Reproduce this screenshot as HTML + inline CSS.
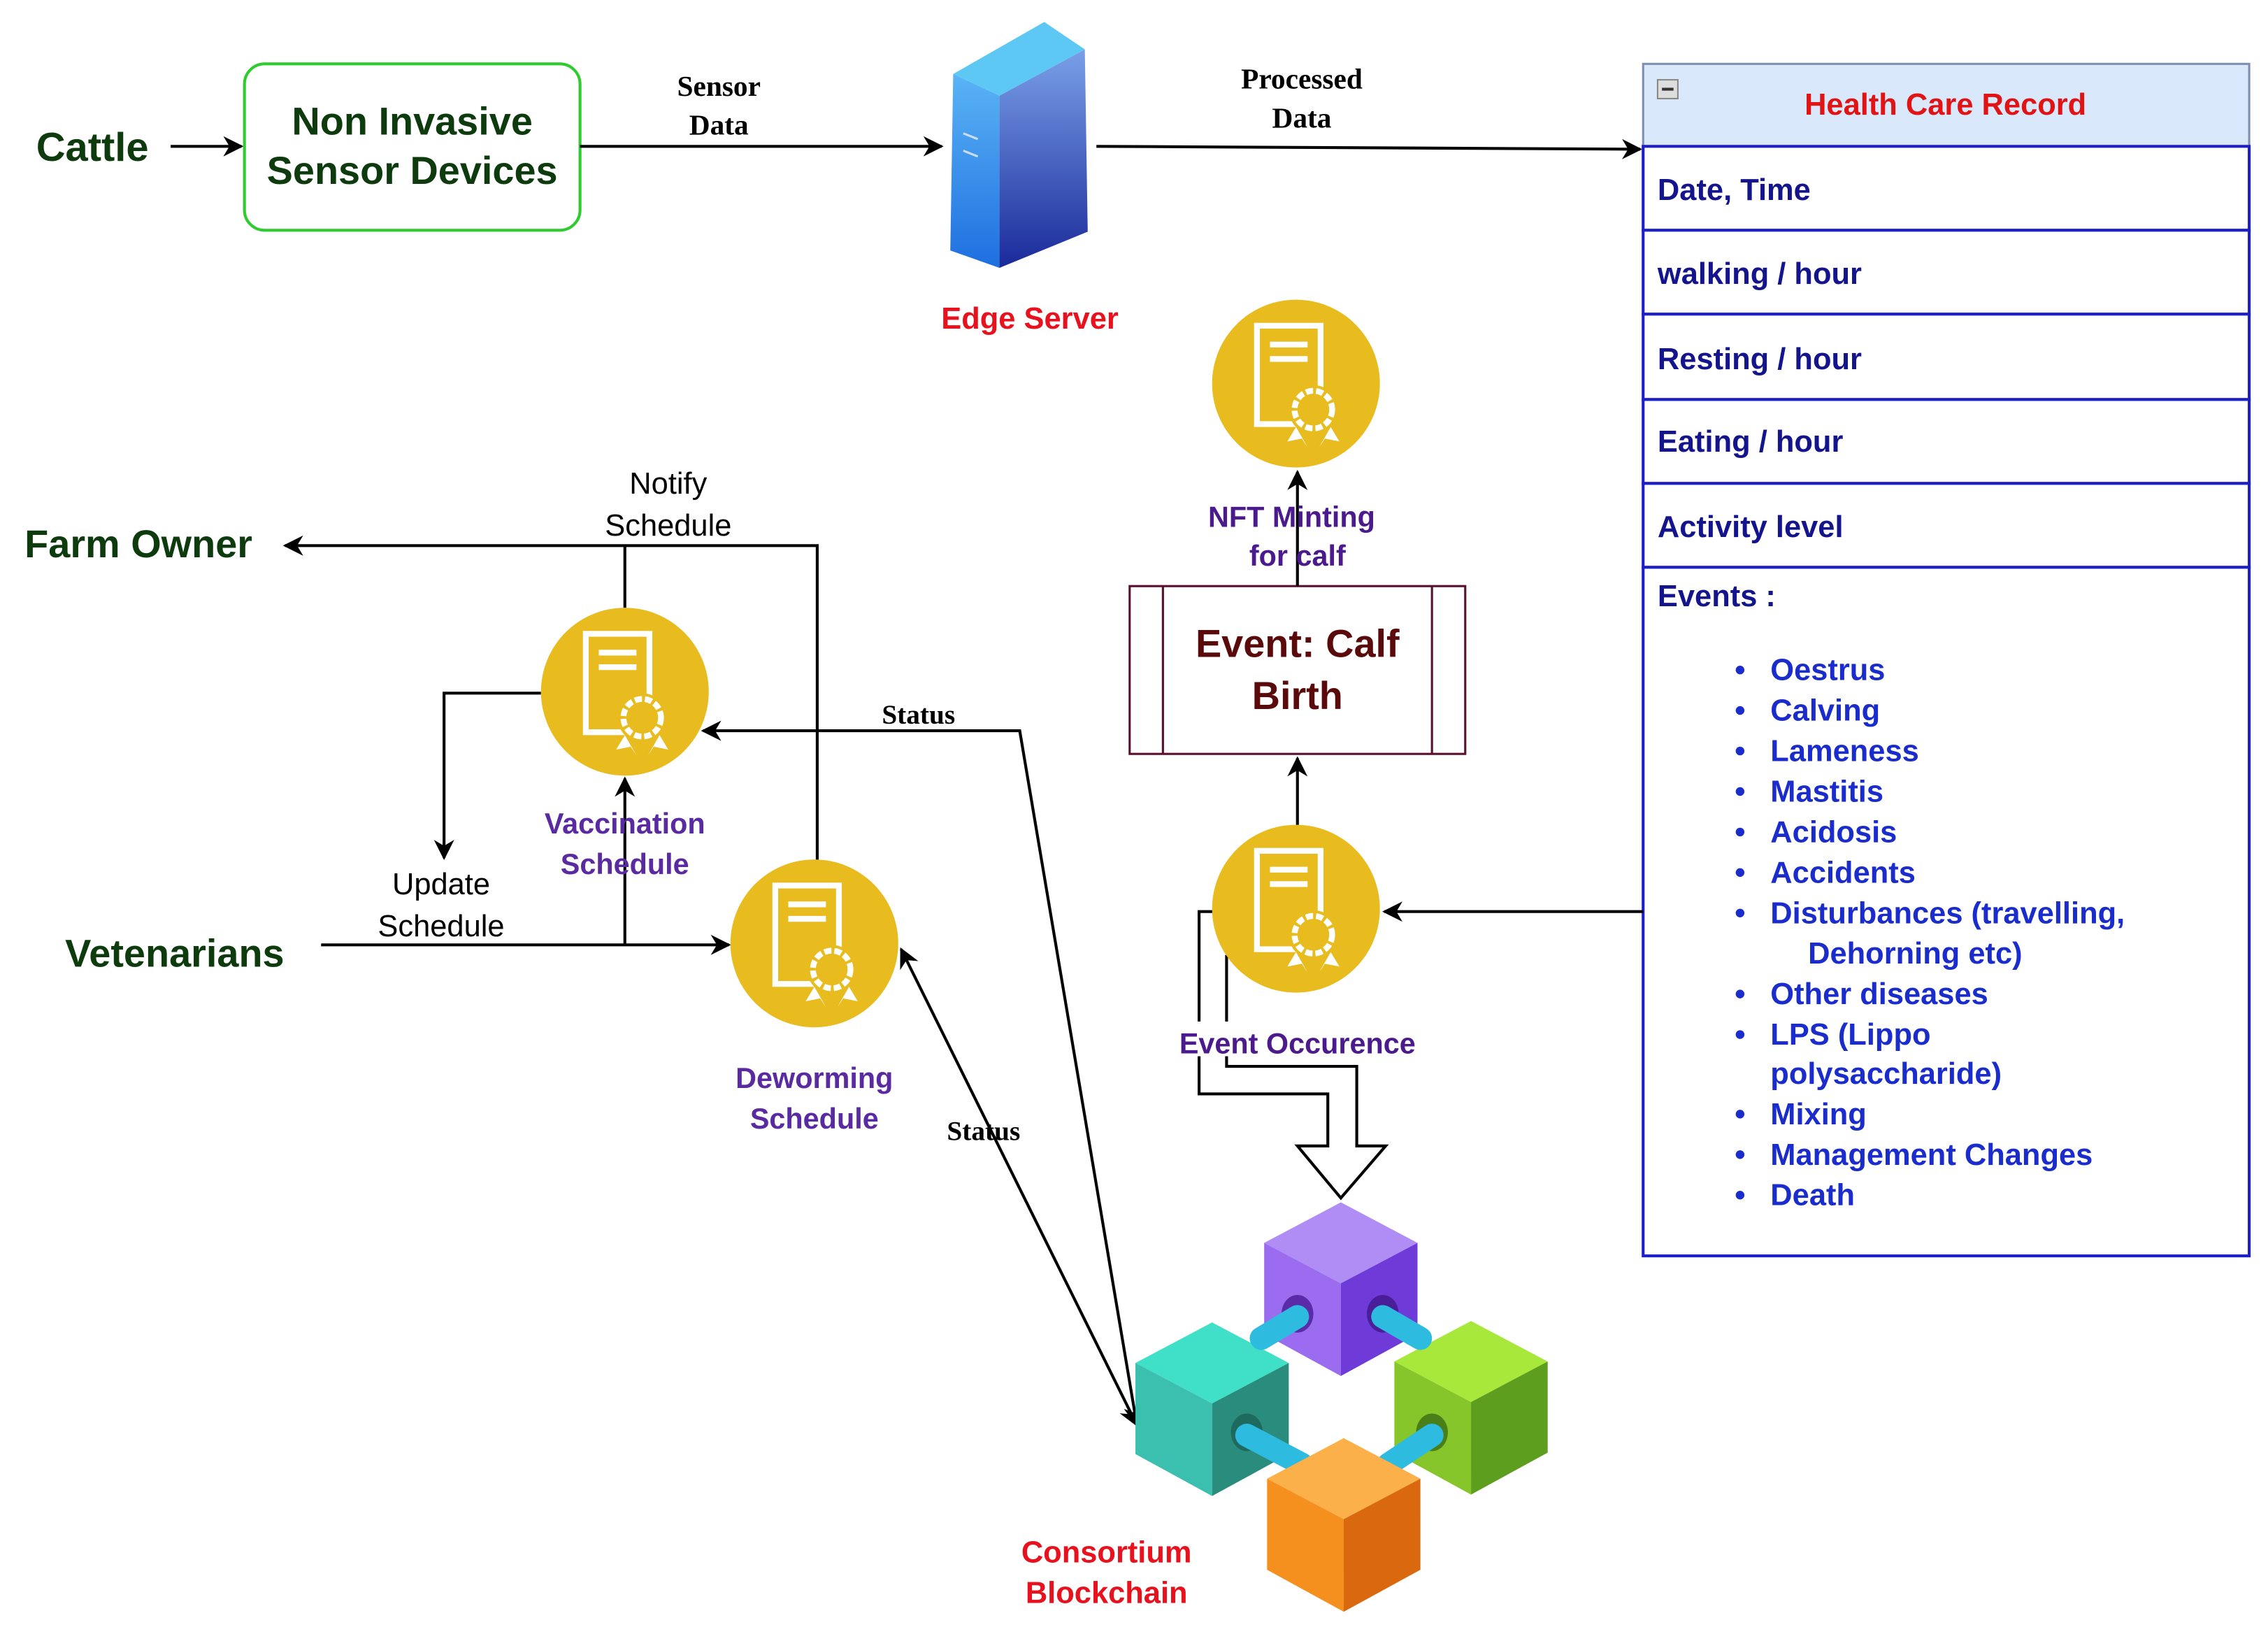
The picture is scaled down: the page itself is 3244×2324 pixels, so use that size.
<!DOCTYPE html>
<html><head><meta charset="utf-8"><style>html,body{margin:0;padding:0;background:#fff}svg{display:block}</style></head>
<body>
<svg width="3244" height="2324" viewBox="0 0 1568 1123" xmlns="http://www.w3.org/2000/svg">
<defs>
<marker id="ah2" viewBox="0 0 10 10" refX="9" refY="5" markerWidth="14" markerHeight="14" orient="auto-start-reverse" markerUnits="userSpaceOnUse"><path d="M0,0 L10,5 L0,10 L3,5 z" fill="#000"/></marker>
<linearGradient id="sl" x1="0" y1="0" x2="0" y2="1"><stop offset="0" stop-color="#5ab4f5"/><stop offset="1" stop-color="#1e6fe0"/></linearGradient>
<linearGradient id="sr" x1="0" y1="0" x2="0" y2="1"><stop offset="0" stop-color="#7aa0e8"/><stop offset="1" stop-color="#1a2a9a"/></linearGradient>
<g id="cert">
<circle cx="0" cy="0" r="58" fill="#e8bb1f"/>
<rect x="-27" y="-40" width="44" height="68" fill="none" stroke="#fff" stroke-width="4"/>
<line x1="-18" y1="-27" x2="8" y2="-27" stroke="#fff" stroke-width="4"/>
<line x1="-18" y1="-17" x2="8" y2="-17" stroke="#fff" stroke-width="4"/>
<circle cx="12" cy="18" r="17" fill="#e8bb1f"/>
<circle cx="12" cy="18" r="13" fill="none" stroke="#fff" stroke-width="4" stroke-dasharray="5 2"/>
<path d="M0,30 L-6,40 L4,38 L8,44 Z M24,30 L30,40 L20,38 L16,44 Z" fill="#fff"/>
</g>
</defs>

<g font-family="Liberation Sans, sans-serif">
<text x="25" y="111" font-size="28" font-weight="bold" fill="#0d3b0d">Cattle</text>
<line x1="118" y1="101" x2="167" y2="101" stroke="#000" stroke-width="2" marker-end="url(#ah2)"/>
<rect x="169" y="44" width="232" height="115" rx="14" fill="#fff" stroke="#2ecc2e" stroke-width="2"/>
<text x="285" y="93" font-size="27" fill="#0d3b0d" text-anchor="middle" font-weight="bold">Non Invasive</text>
<text x="285" y="127" font-size="27" fill="#0d3b0d" text-anchor="middle" font-weight="bold">Sensor Devices</text>
<line x1="401" y1="101" x2="651" y2="101" stroke="#000" stroke-width="2" marker-end="url(#ah2)"/>
<text x="497" y="66" font-size="20" font-family="Liberation Serif, serif" font-weight="bold" text-anchor="middle">Sensor</text>
<text x="497" y="93" font-size="20" font-family="Liberation Serif, serif" font-weight="bold" text-anchor="middle">Data</text>
<polygon points="659,51 722,15 750,34 691,66" fill="#5ec8f5"/>
<polygon points="659,51 691,66 691,185 657,173" fill="url(#sl)"/>
<polygon points="691,66 750,34 752,160 691,185" fill="url(#sr)"/>
<line x1="666" y1="92" x2="676" y2="96" stroke="#cde" stroke-width="1.5"/>
<line x1="666" y1="104" x2="676" y2="108" stroke="#cde" stroke-width="1.5"/>
<text x="712" y="227" font-size="21" font-weight="bold" fill="#e8121e" text-anchor="middle">Edge Server</text>
<line x1="758" y1="101" x2="1134" y2="103" stroke="#000" stroke-width="2" marker-end="url(#ah2)"/>
<text x="900" y="61" font-size="20" font-family="Liberation Serif, serif" font-weight="bold" text-anchor="middle">Processed</text>
<text x="900" y="88" font-size="20" font-family="Liberation Serif, serif" font-weight="bold" text-anchor="middle">Data</text>

<rect x="1136" y="44" width="419" height="57" fill="#dae8fc" stroke="#7f8fb0" stroke-width="1.5"/>
<rect x="1146" y="55" width="14" height="13" fill="#ddd" stroke="#888"/>
<line x1="1149" y1="61.5" x2="1157" y2="61.5" stroke="#333" stroke-width="2"/>
<text x="1345" y="79" font-size="21" font-weight="bold" fill="#e01414" text-anchor="middle">Health Care Record</text>
<g fill="#fff" stroke="#1f1fc8" stroke-width="2">
<rect x="1136" y="101" width="419" height="58"/>
<rect x="1136" y="159" width="419" height="58"/>
<rect x="1136" y="217" width="419" height="59"/>
<rect x="1136" y="276" width="419" height="58"/>
<rect x="1136" y="334" width="419" height="58"/>
<rect x="1136" y="392" width="419" height="476"/>
</g>
<g font-size="21" font-weight="bold" fill="#14148c">
<text x="1146" y="138">Date, Time</text>
<text x="1146" y="196">walking / hour</text>
<text x="1146" y="255">Resting / hour</text>
<text x="1146" y="312">Eating / hour</text>
<text x="1146" y="371">Activity level</text>
<text x="1146" y="419">Events :</text>
</g>
<g font-size="21" font-weight="bold" fill="#1a2ccc">
<text x="1224" y="470">Oestrus</text>
<text x="1224" y="498">Calving</text>
<text x="1224" y="526">Lameness</text>
<text x="1224" y="554">Mastitis</text>
<text x="1224" y="582">Acidosis</text>
<text x="1224" y="610">Accidents</text>
<text x="1224" y="638">Disturbances (travelling,</text>
<text x="1250" y="666">Dehorning etc)</text>
<text x="1224" y="694">Other diseases</text>
<text x="1224" y="722">LPS (Lippo</text>
<text x="1224" y="749">polysaccharide)</text>
<text x="1224" y="777">Mixing</text>
<text x="1224" y="805">Management Changes</text>
<text x="1224" y="833">Death</text>
</g>
<g fill="#1a2ccc">
<circle cx="1203" cy="463" r="3"/><circle cx="1203" cy="491" r="3"/><circle cx="1203" cy="519" r="3"/><circle cx="1203" cy="547" r="3"/><circle cx="1203" cy="575" r="3"/><circle cx="1203" cy="603" r="3"/><circle cx="1203" cy="631" r="3"/><circle cx="1203" cy="687" r="3"/><circle cx="1203" cy="715" r="3"/><circle cx="1203" cy="770" r="3"/><circle cx="1203" cy="798" r="3"/><circle cx="1203" cy="826" r="3"/>
</g>

<line x1="1136" y1="630" x2="957" y2="630" stroke="#000" stroke-width="2" marker-end="url(#ah2)"/>
<path d="M840,630 L829,630 L829,756 L918,756 L918,792 L897,792 L927,828 L958,792 L938,792 L938,737 L848,737 L848,660" fill="#fff" stroke="#000" stroke-width="2"/>
<use href="#cert" x="896" y="628"/>
<rect x="802" y="706" width="192" height="24" fill="#fff"/>
<text x="897" y="728" font-size="20" font-weight="bold" fill="#4b1a8c" text-anchor="middle">Event Occurence</text>
<line x1="897" y1="570" x2="897" y2="524" stroke="#000" stroke-width="2" marker-end="url(#ah2)"/>
<rect x="781" y="405" width="232" height="116" fill="#fff" stroke="#5a1030" stroke-width="1.5"/>
<line x1="804" y1="405" x2="804" y2="521" stroke="#5a1030" stroke-width="1.5"/>
<line x1="990" y1="405" x2="990" y2="521" stroke="#5a1030" stroke-width="1.5"/>
<text x="897" y="454" font-size="27" font-weight="bold" fill="#5a0a0a" text-anchor="middle">Event: Calf</text>
<text x="897" y="490" font-size="27" font-weight="bold" fill="#5a0a0a" text-anchor="middle">Birth</text>
<line x1="897" y1="405" x2="897" y2="326" stroke="#000" stroke-width="2" marker-end="url(#ah2)"/>
<use href="#cert" x="896" y="265"/>
<text x="893" y="364" font-size="20" font-weight="bold" fill="#4b1a8c" text-anchor="middle">NFT Minting</text>
<text x="897" y="391" font-size="20" font-weight="bold" fill="#4b1a8c" text-anchor="middle">for calf</text>

<text x="17" y="385" font-size="27" font-weight="bold" fill="#0d3b0d">Farm Owner</text>
<polyline points="565,595 565,377 197,377" fill="none" stroke="#000" stroke-width="2" marker-end="url(#ah2)"/>
<line x1="432" y1="377" x2="432" y2="420" stroke="#000" stroke-width="2"/>
<text x="462" y="341" font-size="21" text-anchor="middle">Notify</text>
<text x="462" y="370" font-size="21" text-anchor="middle">Schedule</text>
<polyline points="374,479 307,479 307,593" fill="none" stroke="#000" stroke-width="2" marker-end="url(#ah2)"/>
<text x="305" y="618" font-size="21" text-anchor="middle">Update</text>
<text x="305" y="647" font-size="21" text-anchor="middle">Schedule</text>
<text x="45" y="668" font-size="27" font-weight="bold" fill="#0d3b0d">Vetenarians</text>
<line x1="222" y1="653" x2="504" y2="653" stroke="#000" stroke-width="2" marker-end="url(#ah2)"/>
<line x1="432" y1="653" x2="432" y2="538" stroke="#000" stroke-width="2" marker-end="url(#ah2)"/>
<use href="#cert" x="432" y="478"/>
<use href="#cert" x="563" y="652"/>
<text x="432" y="576" font-size="20" font-weight="bold" fill="#5a2aa0" text-anchor="middle">Vaccination</text>
<text x="432" y="604" font-size="20" font-weight="bold" fill="#5a2aa0" text-anchor="middle">Schedule</text>
<text x="563" y="752" font-size="20" font-weight="bold" fill="#5a2aa0" text-anchor="middle">Deworming</text>
<text x="563" y="780" font-size="20" font-weight="bold" fill="#5a2aa0" text-anchor="middle">Schedule</text>
<polyline points="786,985 705,505 486,505" fill="none" stroke="#000" stroke-width="2" marker-start="url(#ah2)" marker-end="url(#ah2)"/>
<line x1="786" y1="985" x2="623" y2="656" stroke="#000" stroke-width="2" marker-start="url(#ah2)" marker-end="url(#ah2)"/>
<text x="635" y="500" font-size="19" font-family="Liberation Serif, serif" font-weight="bold" text-anchor="middle">Status</text>
<text x="680" y="788" font-size="19" font-family="Liberation Serif, serif" font-weight="bold" text-anchor="middle">Status</text>
</g>
<g>
<polygon points="927,831 980,859 927,887 874,859" fill="#b08cf5"/>
<polygon points="874,859 927,887 927,951 874,922" fill="#9b6cf0"/>
<polygon points="927,887 980,859 980,922 927,951" fill="#6e3ad8"/>
<ellipse cx="897" cy="908" rx="11" ry="13" fill="#5a2aa8"/>
<ellipse cx="956" cy="908" rx="11" ry="13" fill="#4a1e98"/>
<polygon points="838,914 891,942 838,970 785,942" fill="#40e0c8"/>
<polygon points="785,942 838,970 838,1034 785,1005" fill="#3bbfae"/>
<polygon points="838,970 891,942 891,1005 838,1034" fill="#2a8c7c"/>
<ellipse cx="862" cy="990" rx="11" ry="13" fill="#1e6a5e"/>
<polygon points="1017,913 1070,941 1017,969 964,941" fill="#a8e83a"/>
<polygon points="964,941 1017,969 1017,1033 964,1004" fill="#86c62a"/>
<polygon points="1017,969 1070,941 1070,1004 1017,1033" fill="#5e9e1e"/>
<ellipse cx="990" cy="990" rx="11" ry="13" fill="#4a7e18"/>
<g stroke="#2ebbe0" stroke-width="16" stroke-linecap="round">
<line x1="862" y1="992" x2="900" y2="1012"/>
<line x1="990" y1="992" x2="960" y2="1012"/>
<line x1="897" y1="910" x2="872" y2="925"/>
<line x1="956" y1="910" x2="982" y2="925"/>
</g>
<polygon points="929,994 982,1022 929,1050 876,1022" fill="#fbb04a"/>
<polygon points="876,1022 929,1050 929,1114 876,1085" fill="#f5901e"/>
<polygon points="929,1050 982,1022 982,1085 929,1114" fill="#d9680e"/>
</g>
<g font-family="Liberation Sans, sans-serif" font-size="21" font-weight="bold" fill="#e8121e" text-anchor="middle">
<text x="765" y="1080">Consortium</text>
<text x="765" y="1108">Blockchain</text>
</g>
</svg>
</body></html>
